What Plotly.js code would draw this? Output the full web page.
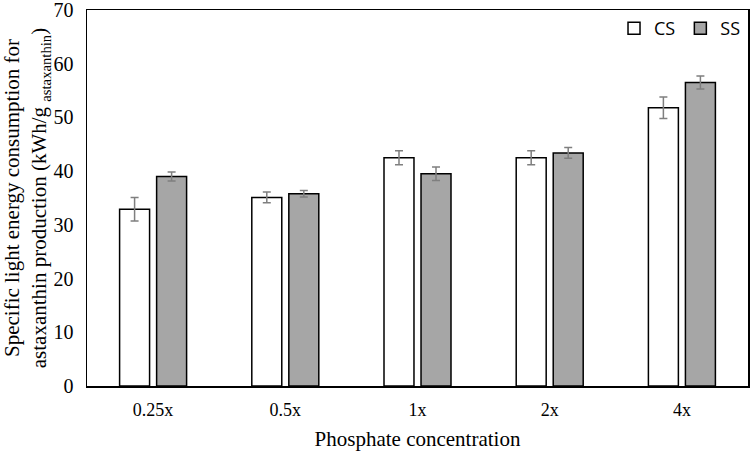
<!DOCTYPE html>
<html>
<head>
<meta charset="utf-8">
<script src="https://cdn.plot.ly/plotly-3.0.1.min.js"></script>
<style>html,body{margin:0;padding:0;background:#fff;}#chart{width:750px;height:452px;}</style>
</head>
<body>
<div id="chart"></div>
<script>
const categories = ["0.25x", "0.5x", "1x", "2x", "4x"];
const csValues = [32.9, 35.1, 42.5, 42.5, 51.8];
const csErrors = [2.2, 1.0, 1.3, 1.3, 2.0];
const ssValues = [39.0, 35.8, 39.5, 43.4, 56.5];
const ssErrors = [0.85, 0.6, 1.25, 1.0, 1.2];
const yTicks = [0, 10, 20, 30, 40, 50, 60, 70];

const serif = "Liberation Serif, Times New Roman, serif";

const traces = [
  {
    type: "bar", name: "CS", x: categories, y: csValues,
    marker: {color: "#ffffff", line: {color: "#000000", width: 1.5}},
    error_y: {type: "data", array: csErrors, visible: true, color: "#7f7f7f", thickness: 1.5, width: 4}
  },
  {
    type: "bar", name: "SS", x: categories, y: ssValues,
    marker: {color: "#a6a6a6", line: {color: "#000000", width: 1.5}},
    error_y: {type: "data", array: ssErrors, visible: true, color: "#7f7f7f", thickness: 1.5, width: 4}
  }
];

const layout = {
  width: 750, height: 452,
  margin: {l: 87, r: 2, t: 10, b: 66},
  paper_bgcolor: "#ffffff", plot_bgcolor: "#ffffff",
  barmode: "group", bargap: 0.44, bargroupgap: 0.19,
  showlegend: true,
  legend: {
    orientation: "h", x: 0.997, xanchor: "right", y: 1.0, yanchor: "top",
    font: {family: "Open Sans, sans-serif", size: 18, color: "#000"},
    bgcolor: "rgba(0,0,0,0)", traceorder: "normal"
  },
  xaxis: {
    showline: true, mirror: true, linecolor: "#000", linewidth: 1.5,
    ticks: "", showgrid: false, automargin: false,
    tickfont: {family: serif, size: 18, color: "#000"},
    ticklabelstandoff: 7,
    title: {text: "Phosphate concentration", font: {family: serif, size: 21, color: "#000"}, standoff: 12}
  },
  yaxis: {
    range: [0, 70], tickvals: yTicks, ticktext: yTicks.map(String),
    showline: true, mirror: true, linecolor: "#000", linewidth: 1.5,
    ticks: "", showgrid: false, zeroline: false, automargin: false,
    ticklabeloverflow: "allow",
    ticklabelstandoff: 8,
    tickfont: {family: serif, size: 20, color: "#000"},
    title: {text: "Specific light energy consumption for<br>astaxanthin production (kWh/g <sub>astaxanthin</sub>)", font: {family: serif, size: 21, color: "#000"}, standoff: 6}
  }
};

Plotly.newPlot("chart", traces, layout, {displayModeBar: false, staticPlot: true});
</script>
</body>
</html>
